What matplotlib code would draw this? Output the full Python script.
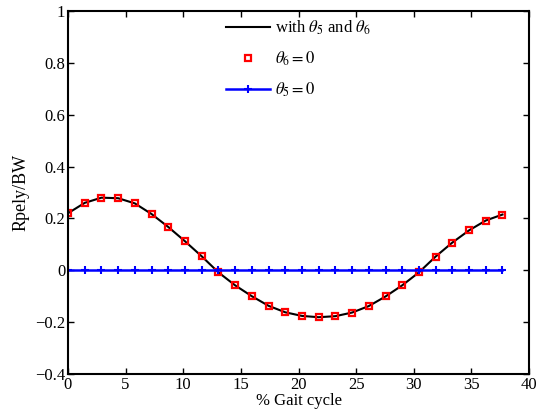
import matplotlib
matplotlib.use("Agg")
import matplotlib.pyplot as plt

plt.rcParams['font.family'] = ['Liberation Serif', 'DejaVu Serif']
plt.rcParams['mathtext.fontset'] = 'stix'

gait = [0.0, 1.45, 2.9, 4.35, 5.8, 7.25, 8.7, 10.15, 11.6, 13.05, 14.5, 15.95,
        17.4, 18.85, 20.3, 21.75, 23.2, 24.65, 26.1, 27.55, 29.0, 30.45, 31.9,
        33.35, 34.8, 36.25, 37.7]
with_both = [0.220, 0.260, 0.280, 0.278, 0.258, 0.217, 0.167, 0.112, 0.054,
             -0.008, -0.058, -0.100, -0.137, -0.162, -0.176, -0.181, -0.177,
             -0.163, -0.138, -0.101, -0.058, -0.008, 0.053, 0.107, 0.154,
             0.192, 0.215]
theta6_zero = list(with_both)
theta5_zero = [0.0] * len(gait)

fig = plt.figure(figsize=(5.39, 4.18), dpi=100)
ax = fig.add_axes([68/539, 1-374/418, (529-68)/539, (374-11)/418])

ax.plot(gait, with_both, color='black', lw=1.5, label=r'with $\theta_5$ and $\theta_6$')
ax.plot(gait, theta6_zero, ls='none', marker='s', ms=4.5, mfc='none', mec='red',
        mew=1.6, label=r'$\theta_6 = 0$')
ax.plot(gait, theta5_zero, color='blue', lw=1.8, marker='+', ms=6, mew=1.5,
        label=r'$\theta_5 = 0$')

ax.set_xlim(0, 40)
ax.set_ylim(-0.4, 1)
ax.set_xticks([0, 5, 10, 15, 20, 25, 30, 35, 40])
ax.set_yticks([-0.4, -0.2, 0, 0.2, 0.4, 0.6, 0.8, 1])
ax.set_yticklabels(['\u22120.4', '\u22120.2', '0', '0.2', '0.4', '0.6', '0.8', '1'])
ax.tick_params(direction='in', top=True, right=True, labelsize=12, width=1, length=4, pad=2)
for s in ax.spines.values():
    s.set_linewidth(1.5)

ax.set_xlabel('% Gait cycle', fontsize=12, labelpad=0)
ax.set_ylabel('Rpely/BW', fontsize=13, labelpad=4)

ax.legend(loc='upper center', frameon=False, fontsize=12, handlelength=2.6,
          handletextpad=0.3, labelspacing=0.75, numpoints=1,
          bbox_to_anchor=(0.5, 1.02))

fig.savefig('out.png', dpi=100)
